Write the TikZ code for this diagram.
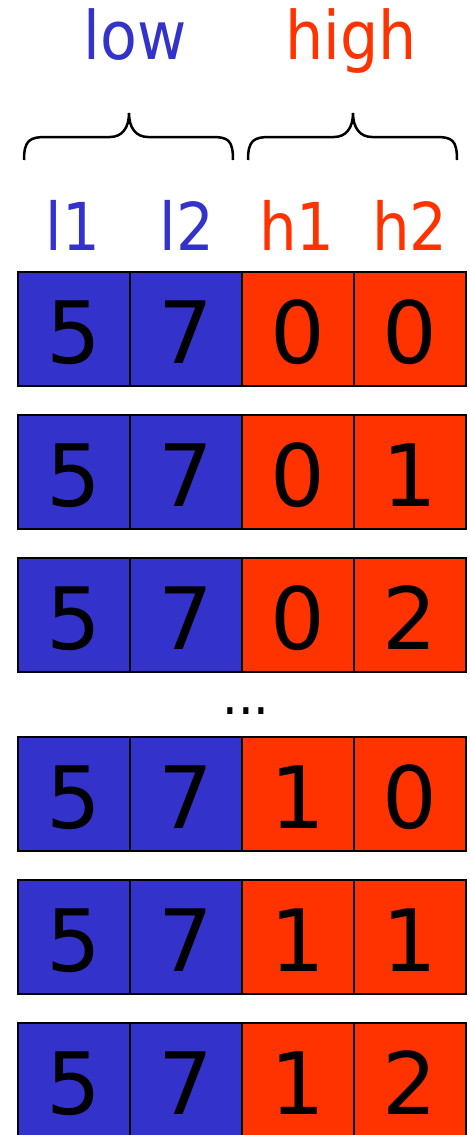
\documentclass[tikz,border=0pt]{standalone}
\usepackage{fontspec}
\setmainfont[FakeStretch=0.9]{DejaVu Sans}
\newfontfamily\digitfont{DejaVu Sans}
\definecolor{lowblue}{RGB}{51,51,204}
\definecolor{highred}{RGB}{255,51,0}
\begin{document}
\begin{tikzpicture}[x=1pt,y=-1pt,
  cell/.style={draw=black,line width=2.5pt,minimum width=112pt,minimum height=114pt,inner sep=0pt,outer sep=0pt,text height=68.7pt,text depth=0pt,font=\digitfont\fontsize{86}{86}\selectfont,text=black},
  lowcell/.style={cell,fill=lowblue},
  highcell/.style={cell,fill=highred},
  grouplabel/.style={anchor=base,inner sep=0pt,font=\fontsize{67}{67}\selectfont},
  collabel/.style={anchor=base,inner sep=0pt,font=\fontsize{66}{66}\selectfont},
  bracepath/.style={draw=black,line width=2.5pt}]
\useasboundingbox (0,0) rectangle (469,1135);
\clip (0,0) rectangle (469,1135);
% group labels
\node[grouplabel,text=lowblue] (low) at (135,59) {low};
\node[grouplabel,text=highred] (high) at (351,59) {high};
% braces
\draw[bracepath] (24,160) .. controls (24,140) and (30,137) .. (46,137) -- (110,137) .. controls (122,137) and (129,128) .. (129,113) .. controls (129,128) and (136,137) .. (148,137) -- (212,137) .. controls (228,137) and (233,140) .. (233,160);
\draw[bracepath] (248,160) .. controls (248,140) and (254,137) .. (270,137) -- (334,137) .. controls (346,137) and (353,128) .. (353,113) .. controls (353,128) and (360,137) .. (372,137) -- (436,137) .. controls (452,137) and (457,140) .. (457,160);
% rows
\foreach \r/\yc/\a/\b in {1/329/0/0, 2/472/0/1, 3/615/0/2, 4/794/1/0, 5/937/1/1, 6/1080/1/2}{
  \node[lowcell] (r\r c1) at (74,\yc) {5};
  \node[lowcell] (r\r c2) at (186,\yc) {7};
  \node[highcell] (r\r c3) at (298,\yc) {\a};
  \node[highcell] (r\r c4) at (410,\yc) {\b};
}
% column labels
\node[collabel,text=lowblue] (l1) at (73,250) {l1};
\node[collabel,text=lowblue] (l2) at (187,250) {l2};
\node[collabel,text=highred] (h1) at (297,250) {h1};
\node[collabel,text=highred] (h2) at (410,250) {h2};
% dots
\node[anchor=base,inner sep=0pt,font=\fontsize{55}{55}\selectfont] (dots) at (246,714) {...};
\end{tikzpicture}
\end{document}
